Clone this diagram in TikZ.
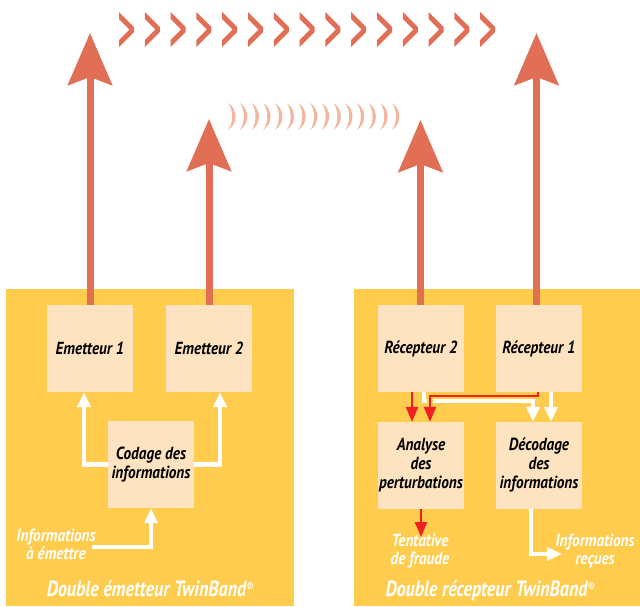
\documentclass[tikz,border=0pt]{standalone}
\usepackage{fontspec}
\setmainfont{PT Sans}
\newfontfamily\cfont{PT Sans}[FakeStretch=0.87]
\newfontfamily\tfont{PT Sans}[FakeStretch=0.82]
\usetikzlibrary{arrows.meta,calc}
\definecolor{panel}{HTML}{FFCC4E}
\definecolor{boxc}{HTML}{FDE3BF}
\definecolor{salmon}{HTML}{E06F55}
\definecolor{wave}{HTML}{F2B59E}
\definecolor{redc}{HTML}{EE2024}
\begin{document}
\begin{tikzpicture}[x=1pt,y=-1pt,
  stepbox/.style={fill=boxc, minimum width=86pt, minimum height=87pt, inner sep=0pt, align=center,
    font=\cfont\bfseries\itshape\fontsize{17.5}{19}\selectfont},
  bigarrow/.style={draw=salmon, line width=7pt, -{Stealth[length=52pt,width=44pt,inset=8pt]}},
  whitearrow/.style={draw=white, line width=4.5pt, -{Triangle[length=15pt,width=13pt]}},
  redarrow/.style={draw=redc, line width=2.5pt, -{Triangle[length=15pt,width=12pt]}},
  lab/.style={text=white, align=center, inner sep=0pt, font=\cfont\bfseries\itshape\fontsize{17.5}{18}\selectfont},
  ttl/.style={text=white, inner sep=0pt, anchor=base, font=\tfont\bfseries\itshape\fontsize{22}{24}\selectfont}
]
\useasboundingbox (0,0) rectangle (640,606);

% panels
\fill[panel] (6,289) rectangle (294,606);
\fill[panel] (354,289) rectangle (640,606);

% boxes
\node[stepbox] (e1) at (90,348.5) {Emetteur 1};
\node[stepbox] (e2) at (209,348.5) {Emetteur 2};
\node[stepbox] (cod) at (151,464.5) {Codage des\\informations};
\node[stepbox] (r2) at (421,348.5) {Récepteur 2};
\node[stepbox] (r1) at (539,348.5) {Récepteur 1};
\node[stepbox] (an) at (421,465.5) {Analyse\\des\\perturbations};
\node[stepbox] (dec) at (539,465.5) {Décodage\\des\\informations};

% labels
\node[lab] (inL) at (56,544) {Informations\\à émettre};
\node[lab] (tent) at (420,551) {Tentative\\de fraude};
\node[lab] (recL) at (595,551) {Informations\\reçues};
\node[ttl] (t1) at (150,596) {Double émetteur TwinBand{\fontsize{12}{12}\selectfont\raisebox{5pt}{®}}};
\node[ttl] (t2) at (490,596) {Double récepteur TwinBand{\fontsize{12}{12}\selectfont\raisebox{5pt}{®}}};

% chevrons
\foreach \i in {0,...,14}{
  \pgfmathsetmacro{\cx}{119+25.8*\i}
  \fill[salmon] (\cx,12) -- ++(15,15) -- ++(0,5) -- ++(-15,15) -- ++(0,-7) -- ++(10.5,-10.5) -- ++(-10.5,-10.5) -- cycle;
}
% waves
\foreach \i in {0,...,14}{
  \pgfmathsetmacro{\wx}{228+11.7*\i}
  \pgfmathsetmacro{\wa}{\wx+10}
  \pgfmathsetmacro{\wb}{\wx+5.5}
  \fill[wave] (\wx,103) .. controls (\wa,109) and (\wa,124) .. (\wx,130)
     .. controls (\wb,124) and (\wb,109) .. (\wx,103) -- cycle;
}

% big arrows
\coordinate (tip1) at (90,33);
\coordinate (tip2) at (209,119);
\coordinate (tip3) at (420.5,120);
\coordinate (tip4) at (536.5,33);
\draw[bigarrow] (e1.north) -- (tip1);
\draw[bigarrow] (e2.north) -- (tip2);
\draw[bigarrow] ($(r2.north)+(-0.5,0)$) -- (tip3);
\draw[bigarrow] ($(r1.north)+(-2.5,0)$) -- (tip4);

% left white arrows
\coordinate (inS) at (92,547);
\draw[whitearrow] (cod.west) -| ($(e1.south)+(-6,0)$);
\draw[whitearrow] (cod.east) -| ($(e2.south)+(11,0)$);
\draw[whitearrow] (inS) -| (cod.south);

% right side arrows
\draw[whitearrow] ($(r2.south)+(3,0)$) -- ++(0,9) -| ($(dec.north)+(-6,0)$);
\draw[whitearrow] ($(r1.south)+(12,0)$) -- ($(dec.north)+(12,0)$);
\draw[panel, line width=6pt] (430,398) -- (430,405);
\draw[redarrow] ($(r2.south)+(-9,0)$) -- ($(an.north)+(-9,0)$);
\draw[redarrow] ($(r1.south)+(-1,0)$) -- ++(0,4) -| ($(an.north)+(9,0)$);
\coordinate (tentTop) at (421,537);
\draw[redarrow] (an.south) -- (tentTop);
\coordinate (recTip) at (562,554);
\draw[whitearrow] ($(dec.south)+(-8,0)$) |- (recTip);
\end{tikzpicture}
\end{document}
